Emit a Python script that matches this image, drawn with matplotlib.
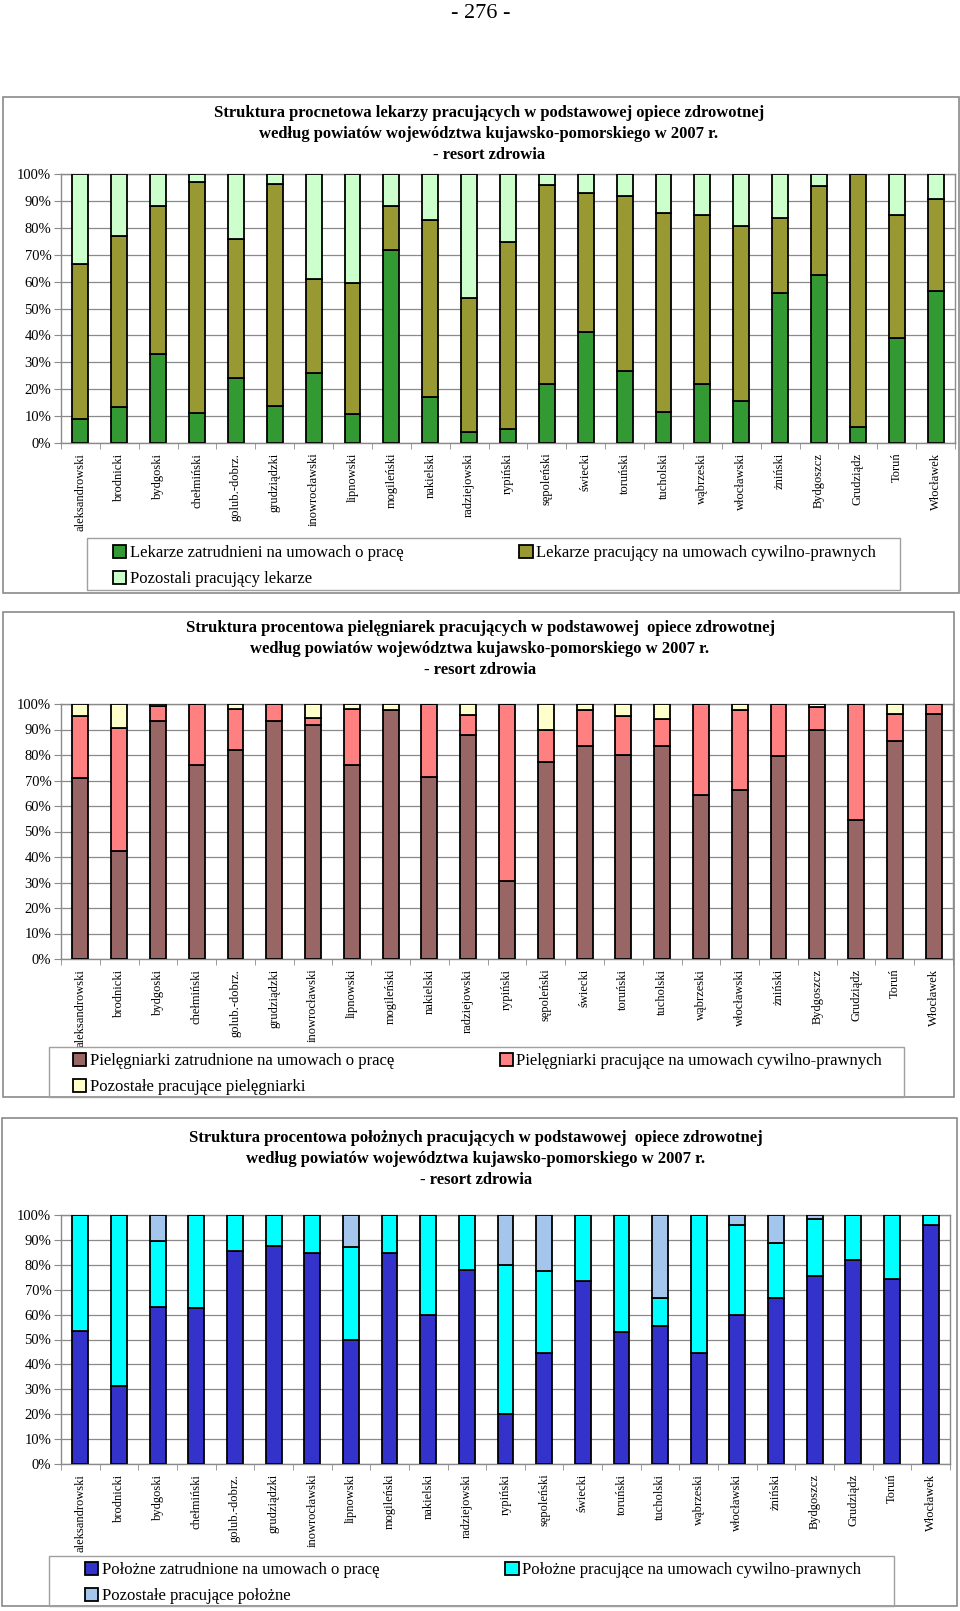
import numpy as np
import matplotlib
matplotlib.use("Agg")
import matplotlib.pyplot as plt
from matplotlib.patches import Rectangle, Patch

plt.rcParams['font.family'] = ['Liberation Serif', 'DejaVu Serif']

# powiaty / miasta
powiaty = ["aleksandrowski", "brodnicki", "bydgoski", "chełmiński", "golub.-dobrz.",
           "grudziądzki", "inowrocławski", "lipnowski", "mogileński", "nakielski",
           "radziejowski", "rypiński", "sępoleński", "świecki", "toruński", "tucholski",
           "wąbrzeski", "włocławski", "żniński", "Bydgoszcz", "Grudziądz", "Toruń", "Włocławek"]

# lekarze (%)
lek_umowa = [9.0, 13.4, 33.2, 11.2, 24.0, 13.6, 26.0, 10.8, 71.9, 17.1, 4.0, 5.3,
             22.1, 41.1, 26.9, 11.4, 22.1, 15.5, 55.8, 62.6, 5.8, 39.0, 56.4]
lek_cywil = [57.7, 63.4, 54.8, 85.8, 51.8, 82.8, 35.0, 48.7, 16.1, 65.7, 49.8, 69.4,
             73.9, 51.8, 64.8, 74.1, 62.8, 65.0, 27.8, 33.1, 94.2, 45.6, 34.4]
lek_pozost = [33.3, 23.2, 12.0, 3.0, 24.2, 3.6, 39.0, 40.5, 12.0, 17.2, 46.2, 25.3,
              4.0, 7.1, 8.3, 14.5, 15.1, 19.5, 16.4, 4.3, 0.0, 15.4, 9.2]

# pielegniarki (%)
piel_umowa = [71.0, 42.2, 93.2, 76.2, 81.8, 93.5, 91.9, 75.9, 97.8, 71.4, 87.7, 30.5,
              77.1, 83.4, 80.1, 83.4, 64.2, 66.4, 79.7, 89.9, 54.4, 85.4, 96.2]
piel_cywil = [24.4, 48.4, 6.1, 23.8, 16.1, 6.5, 2.6, 22.1, 0.0, 28.6, 7.9, 69.5,
              12.8, 14.1, 15.3, 10.8, 35.8, 31.4, 20.3, 8.9, 45.6, 10.5, 3.8]
piel_pozost = [4.6, 9.4, 0.7, 0.0, 2.1, 0.0, 5.5, 2.0, 2.2, 0.0, 4.4, 0.0,
               10.1, 2.5, 4.6, 5.8, 0.0, 2.2, 0.0, 1.2, 0.0, 4.1, 0.0]

# polozne (%)
pol_umowa = [53.3, 31.2, 63.1, 62.5, 85.7, 87.4, 84.7, 49.9, 84.7, 60.0, 77.8, 19.9,
             44.4, 73.5, 52.9, 55.4, 44.4, 60.0, 66.5, 75.4, 81.8, 74.3, 96.0]
pol_cywil = [46.7, 68.8, 26.3, 37.5, 14.3, 12.6, 15.3, 37.2, 15.3, 40.0, 22.2, 59.9,
             33.1, 26.5, 47.1, 11.1, 55.6, 36.0, 22.3, 22.9, 18.2, 25.7, 4.0]
pol_pozost = [0.0, 0.0, 10.6, 0.0, 0.0, 0.0, 0.0, 12.9, 0.0, 0.0, 0.0, 20.2,
              22.5, 0.0, 0.0, 33.5, 0.0, 4.0, 11.2, 1.7, 0.0, 0.0, 0.0]

W, H = 960, 1611
fig = plt.figure(figsize=(W / 100, H / 100), dpi=100)


def fx(x):
    return x / W


def fy(y):
    return 1 - y / H


def frame(x0, y0, x1, y1, lw=1.2, color='#8a8a8a'):
    fig.patches.append(Rectangle((fx(x0), fy(y1)), (x1 - x0) / W, (y1 - y0) / H,
                                 transform=fig.transFigure, fill=False,
                                 edgecolor=color, lw=lw))


def chart(series, colors, labels, title, title_xy, plot_box, out_box, leg_box, leg_span):
    frame(*out_box)
    fig.text(fx(title_xy[0]), fy(title_xy[1]), title, ha='center', va='center',
             fontsize=12, fontweight='bold', linespacing=1.38)

    x0, y0, x1, y1 = plot_box
    ax = fig.add_axes([fx(x0), fy(y1), (x1 - x0) / W, (y1 - y0) / H])
    x = np.arange(len(powiaty))
    bottom = np.zeros(len(powiaty))
    for vals, c in zip(series, colors):
        ax.bar(x, vals, 0.41, bottom=bottom, color=c, edgecolor='black',
               linewidth=1.3, zorder=3)
        bottom += np.array(vals)

    ax.set_xlim(-0.5, len(powiaty) - 0.5)
    ax.set_ylim(0, 100)
    ax.set_yticks(np.arange(0, 101, 10))
    ax.set_yticklabels([f"{v}%" for v in range(0, 101, 10)], fontsize=10.5)
    ax.set_xticks(x)
    ax.set_xticklabels(powiaty, rotation=90, fontsize=9, va='top')
    ax.set_xticks(np.arange(-0.5, len(powiaty), 1), minor=True)
    ax.tick_params(axis='x', which='major', length=0, pad=7)
    ax.tick_params(axis='x', which='minor', length=4, color='#8a8a8a')
    ax.tick_params(axis='y', length=5, color='#8a8a8a', pad=2)
    ax.grid(axis='y', color='#8a8a8a', lw=0.9, zorder=0)
    for s in ax.spines.values():
        s.set_color('#8a8a8a')
        s.set_linewidth(1.0)

    frame(*leg_box, lw=1.0, color='#a0a0a0')
    handles = [Patch(facecolor=c, edgecolor='black', lw=1.3) for c in colors]
    order = [0, 2, 1]
    lx0, lx1 = leg_span
    ly0, ly1 = leg_box[1], leg_box[3]
    fig.legend([handles[i] for i in order], [labels[i] for i in order],
               loc='center', ncol=2, mode='expand', frameon=False,
               bbox_to_anchor=(fx(lx0), fy(ly1 + 2), (lx1 - lx0) / W, (ly1 - ly0) / H),
               bbox_transform=fig.transFigure, fontsize=12, borderpad=0,
               handlelength=0.8, handleheight=0.8, handletextpad=0.2,
               labelspacing=0.6, borderaxespad=0)
    return ax


fig.text(fx(481), fy(14), "- 276 -", ha='center', va='center', fontsize=16)

chart([lek_umowa, lek_cywil, lek_pozost], ['#339933', '#999933', '#ccffcc'],
      ["Lekarze zatrudnieni na umowach o pracę",
       "Lekarze pracujący na umowach cywilno-prawnych",
       "Pozostali pracujący lekarze"],
      "Struktura procnetowa lekarzy pracujących w podstawowej opiece zdrowotnej\n"
      "według powiatów województwa kujawsko-pomorskiego w 2007 r.\n- resort zdrowia",
      (489, 134), (61, 174, 955, 443), (3, 97, 959, 593), (87, 538, 900, 590), (113, 876))

chart([piel_umowa, piel_cywil, piel_pozost], ['#996666', '#ff8080', '#ffffcc'],
      ["Pielęgniarki zatrudnione na umowach o pracę",
       "Pielęgniarki pracujące na umowach cywilno-prawnych",
       "Pozostałe pracujące pielęgniarki"],
      "Struktura procentowa pielęgniarek pracujących w podstawowej  opiece zdrowotnej\n"
      "według powiatów województwa kujawsko-pomorskiego w 2007 r.\n- resort zdrowia",
      (480, 649), (61, 704, 953, 959), (3, 612, 954, 1097), (49, 1047, 904, 1097), (73, 882))

chart([pol_umowa, pol_cywil, pol_pozost], ['#3333cc', '#00ffff', '#a4c6ec'],
      ["Położne zatrudnione na umowach o pracę",
       "Położne pracujące na umowach cywilno-prawnych",
       "Pozostałe pracujące położne"],
      "Struktura procentowa położnych pracujących w podstawowej  opiece zdrowotnej\n"
      "według powiatów województwa kujawsko-pomorskiego w 2007 r.\n- resort zdrowia",
      (476, 1159), (61, 1215, 950, 1464), (2, 1118, 957, 1606), (49, 1556, 894, 1606), (85, 861))

fig.savefig("out.png", dpi=100)
